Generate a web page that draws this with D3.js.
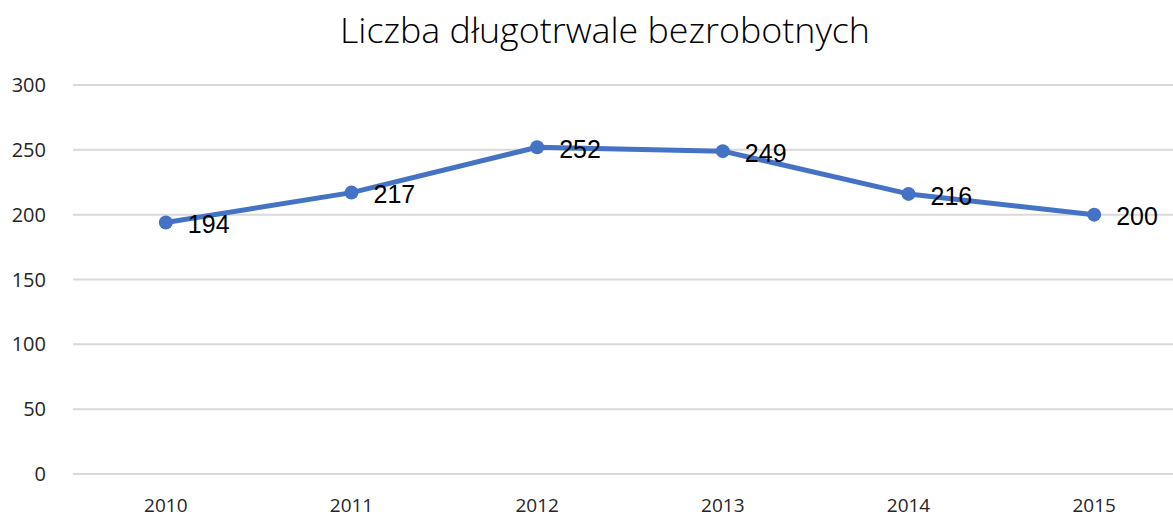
<!DOCTYPE html>
<html>
<head>
<meta charset="utf-8">
<script src="https://d3js.org/d3.v7.min.js"></script>
<style>
  body { margin: 0; background: #fff; }
  svg { display: block; }
</style>
</head>
<body>
<svg id="chart" width="1173" height="520"></svg>
<script>
// data
const years = ['2010', '2011', '2012', '2013', '2014', '2015'];
const values = [194, 217, 252, 249, 216, 200];
const yTicks = [0, 50, 100, 150, 200, 250, 300];
const title = 'Liczba długotrwale bezrobotnych';

const svg = d3.select('#chart');
const W = 1173, H = 520;

const x = d3.scalePoint()
    .domain(years)
    .range([73, 1187])
    .padding(0.5);

const y = d3.scaleLinear()
    .domain([0, 300])
    .range([474, 85]);

// gridlines
svg.append('g')
    .selectAll('line')
    .data(yTicks)
    .join('line')
    .attr('x1', 73)
    .attr('x2', W)
    .attr('y1', d => y(d))
    .attr('y2', d => y(d))
    .attr('stroke', '#d9d9d9')
    .attr('stroke-width', 2);

// y labels
svg.append('g')
    .selectAll('text')
    .data(yTicks)
    .join('text')
    .attr('x', 46)
    .attr('y', d => y(d))
    .attr('dy', '0.35em')
    .attr('text-anchor', 'end')
    .attr('font-family', 'Open Sans, Noto Sans, sans-serif')
    .attr('font-size', 20)
    .attr('fill', '#262626')
    .text(d => d);

// x labels
svg.append('g')
    .selectAll('text')
    .data(years)
    .join('text')
    .attr('x', d => x(d))
    .attr('y', 512)
    .attr('text-anchor', 'middle')
    .attr('font-family', 'Open Sans, Noto Sans, sans-serif')
    .attr('font-size', 19)
    .attr('fill', '#262626')
    .text(d => d);

// title
svg.append('text')
    .attr('x', 605)
    .attr('y', 43)
    .attr('text-anchor', 'middle')
    .attr('textLength', 530)
    .attr('lengthAdjust', 'spacingAndGlyphs')
    .attr('font-family', 'Open Sans, Noto Sans, sans-serif')
    .attr('font-weight', 300)
    .attr('font-size', 35)
    .attr('fill', '#000')
    .text(title);

const pts = years.map((d, i) => ({ year: d, value: values[i] }));

const line = d3.line()
    .x(d => x(d.year))
    .y(d => y(d.value));

svg.append('path')
    .datum(pts)
    .attr('d', line)
    .attr('fill', 'none')
    .attr('stroke', '#4472c4')
    .attr('stroke-width', 5)
    .attr('stroke-linejoin', 'round');

svg.append('g')
    .selectAll('circle')
    .data(pts)
    .join('circle')
    .attr('cx', d => x(d.year))
    .attr('cy', d => y(d.value))
    .attr('r', 7)
    .attr('fill', '#4472c4');

// data labels
svg.append('g')
    .selectAll('text')
    .data(pts)
    .join('text')
    .attr('x', d => x(d.year) + 22)
    .attr('y', d => y(d.value) + 2)
    .attr('dy', '0.35em')
    .attr('font-family', 'Liberation Sans, Arial, sans-serif')
    .attr('font-size', 25)
    .attr('fill', '#000')
    .text(d => d.value);
</script>
</body>
</html>
